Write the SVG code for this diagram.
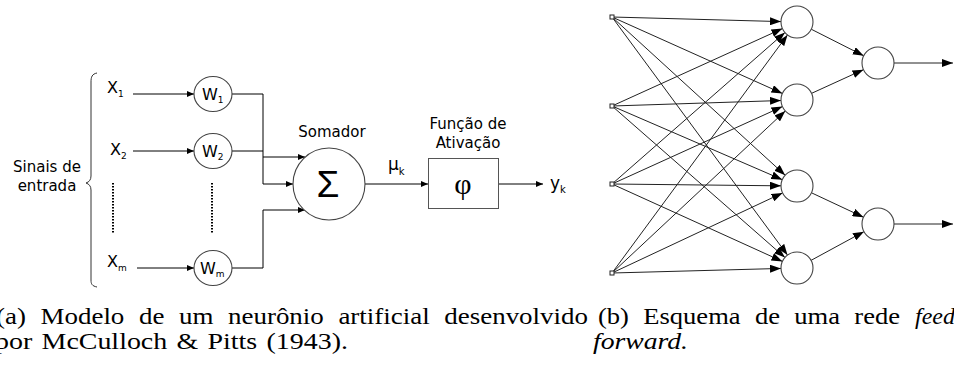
<svg xmlns="http://www.w3.org/2000/svg" width="954" height="365" viewBox="0 0 954 365">
<style>
.s{font-family:"DejaVu Sans",Verdana,sans-serif;fill:#000}
.cap{font-family:"Liberation Serif","Times New Roman",serif;font-size:24px;fill:#000}
.ln{stroke:#000;stroke-width:1;fill:none}
.ln2{stroke:#222;stroke-width:1;fill:none}
.nd{fill:#fff;stroke:#444;stroke-width:1.1}
</style>
<defs>
<marker id="a" markerUnits="userSpaceOnUse" markerWidth="7" markerHeight="6" refX="7" refY="3" orient="auto"><path d="M0,0 L7,3 L0,6 z" fill="#000"/></marker>
<marker id="b" markerUnits="userSpaceOnUse" markerWidth="11" markerHeight="8" refX="11" refY="4" orient="auto"><path d="M0,0 L11,4 L0,8 z" fill="#000"/></marker>
</defs>
<rect width="954" height="365" fill="#fff"/>

<!-- left diagram -->
<g id="inputs-label">
<text class="s" x="47" y="172" font-size="15" text-anchor="middle">Sinais de</text>
<text class="s" x="47" y="191" font-size="15" text-anchor="middle">entrada</text>
<path d="M97,73 C92,74 91,77 91,82 L91,176 C91,180 89,182 86,183 C89,184 91,186 91,190 L91,280 C91,284 92,286 97,287" fill="none" stroke="#333" stroke-width="1"/>
</g>
<g id="x1"><text class="s" x="107" y="93" font-size="16">X<tspan font-size="9" dy="4">1</tspan></text></g>
<g id="x2"><text class="s" x="110" y="155" font-size="16">X<tspan font-size="9" dy="4">2</tspan></text></g>
<g id="xm"><text class="s" x="107" y="267" font-size="16">X<tspan font-size="9" dy="4">m</tspan></text></g>
<g id="dots">
<line x1="113" y1="183" x2="113" y2="233" stroke="#000" stroke-width="2" stroke-dasharray="1.6,1.4"/>
<line x1="212" y1="183" x2="212" y2="233" stroke="#000" stroke-width="2" stroke-dasharray="1.6,1.4"/>
</g>
<g id="connectors-left">
<path class="ln" d="M133,94 H194" marker-end="url(#a)"/>
<path class="ln" d="M133,151 H194" marker-end="url(#a)"/>
<path class="ln" d="M137,268 H194" marker-end="url(#a)"/>
<path class="ln" d="M232,94 H263 V184 H293" marker-end="url(#a)"/>
<path class="ln" d="M232,151 H263"/>
<path class="ln" d="M263,157 H305" marker-end="url(#a)"/>
<path class="ln" d="M232,268 H263 V210 H305" marker-end="url(#a)"/>
<path class="ln" d="M365,184 H428" marker-end="url(#a)"/>
<path class="ln" d="M499,184 H543" marker-end="url(#a)"/>
</g>
<g id="w1"><ellipse class="nd" cx="213" cy="94" rx="19" ry="17.5"/><text class="s" x="202" y="100" font-size="16">W<tspan font-size="9" dy="3">1</tspan></text></g>
<g id="w2"><ellipse class="nd" cx="213" cy="151" rx="19" ry="17.5"/><text class="s" x="202" y="157" font-size="16">W<tspan font-size="9" dy="3">2</tspan></text></g>
<g id="wm"><ellipse class="nd" cx="213" cy="268" rx="19" ry="17.5"/><text class="s" x="200" y="274" font-size="16">W<tspan font-size="9" dy="3">m</tspan></text></g>
<g id="somador">
<text class="s" x="332" y="137" font-size="15" text-anchor="middle">Somador</text>
<circle class="nd" cx="329" cy="184" r="36"/>
<text x="328" y="197" font-family="Liberation Sans, Arial, sans-serif" font-size="37" text-anchor="middle">Σ</text>
</g>
<g id="mu"><text class="s" x="388" y="170" font-size="17">μ<tspan font-size="10" dy="5">k</tspan></text></g>
<g id="ativacao">
<text class="s" x="468" y="129" font-size="15" text-anchor="middle">Função de</text>
<text class="s" x="468" y="148" font-size="15" text-anchor="middle">Ativação</text>
<rect x="428.5" y="158.5" width="70" height="50" fill="#fff" stroke="#555" stroke-width="1"/>
<text x="463" y="194" font-family="Liberation Serif, Times New Roman, serif" font-size="30" text-anchor="middle">φ</text>
</g>
<g id="yk"><text class="s" x="550" y="189" font-size="17">y<tspan font-size="10" dy="4">k</tspan></text></g>

<!-- right diagram -->
<g id="connectors-right" class="ln2">
<line x1="612" y1="17" x2="781" y2="21.6" marker-end="url(#b)"/>
<line x1="612" y1="17" x2="782.4" y2="93.45" marker-end="url(#b)"/>
<line x1="612" y1="17" x2="785.19" y2="175.21" marker-end="url(#b)"/>
<line x1="612" y1="17" x2="787.51" y2="255.12" marker-end="url(#b)"/>
<line x1="612" y1="106" x2="782.43" y2="28.61" marker-end="url(#b)"/>
<line x1="612" y1="106" x2="781" y2="100.52" marker-end="url(#b)"/>
<line x1="612" y1="106" x2="782.32" y2="179.65" marker-end="url(#b)"/>
<line x1="612" y1="106" x2="784.96" y2="257.46" marker-end="url(#b)"/>
<line x1="612" y1="184" x2="784.96" y2="32.54" marker-end="url(#b)"/>
<line x1="612" y1="184" x2="782.43" y2="106.61" marker-end="url(#b)"/>
<line x1="612" y1="184" x2="781" y2="185.83" marker-end="url(#b)"/>
<line x1="612" y1="184" x2="782.43" y2="261.39" marker-end="url(#b)"/>
<line x1="612" y1="273" x2="787.51" y2="34.88" marker-end="url(#b)"/>
<line x1="612" y1="273" x2="785.31" y2="110.93" marker-end="url(#b)"/>
<line x1="612" y1="273" x2="782.58" y2="192.94" marker-end="url(#b)"/>
<line x1="612" y1="273" x2="781" y2="268.43" marker-end="url(#b)"/>
<line x1="811.27" y1="29.23" x2="863.72" y2="55.77" marker-end="url(#b)"/>
<line x1="811.55" y1="93.35" x2="863.45" y2="69.65" marker-end="url(#b)"/>
<line x1="811.49" y1="192.8" x2="863.52" y2="217.2" marker-end="url(#b)"/>
<line x1="811.06" y1="260.36" x2="863.94" y2="231.64" marker-end="url(#b)"/>
<line x1="894" y1="63" x2="953" y2="63" marker-end="url(#b)"/>
<line x1="894" y1="224" x2="953" y2="224" marker-end="url(#b)"/>
</g>
<g id="in1"><rect x="610" y="15" width="4" height="4" fill="#fff" stroke="#222" stroke-width="1"/></g>
<g id="in2"><rect x="610" y="104" width="4" height="4" fill="#fff" stroke="#222" stroke-width="1"/></g>
<g id="in3"><rect x="610" y="182" width="4" height="4" fill="#fff" stroke="#222" stroke-width="1"/></g>
<g id="in4"><rect x="610" y="271" width="4" height="4" fill="#fff" stroke="#222" stroke-width="1"/></g>
<g id="h1"><circle class="nd" cx="797" cy="22" r="16"/></g>
<g id="h2"><circle class="nd" cx="797" cy="100" r="16"/></g>
<g id="h3"><circle class="nd" cx="797" cy="186" r="16"/></g>
<g id="h4"><circle class="nd" cx="797" cy="268" r="16"/></g>
<g id="o1"><circle class="nd" cx="878" cy="63" r="16"/></g>
<g id="o2"><circle class="nd" cx="878" cy="224" r="16"/></g>

<!-- captions -->
<g id="captions">
<text class="cap" x="-4" y="324" word-spacing="7" textLength="592" lengthAdjust="spacingAndGlyphs">(a) Modelo de um neurônio artificial desenvolvido</text>
<text class="cap" x="-5" y="349" word-spacing="2" textLength="353" lengthAdjust="spacingAndGlyphs">por McCulloch &amp; Pitts (1943).</text>
<text class="cap" x="598" y="324" word-spacing="7" textLength="302" lengthAdjust="spacingAndGlyphs">(b) Esquema de uma rede</text>
<text class="cap" x="915" y="324" font-style="italic">feed</text>
<text class="cap" x="593" y="349" font-style="italic" textLength="95" lengthAdjust="spacingAndGlyphs">forward.</text>
</g>
</svg>
